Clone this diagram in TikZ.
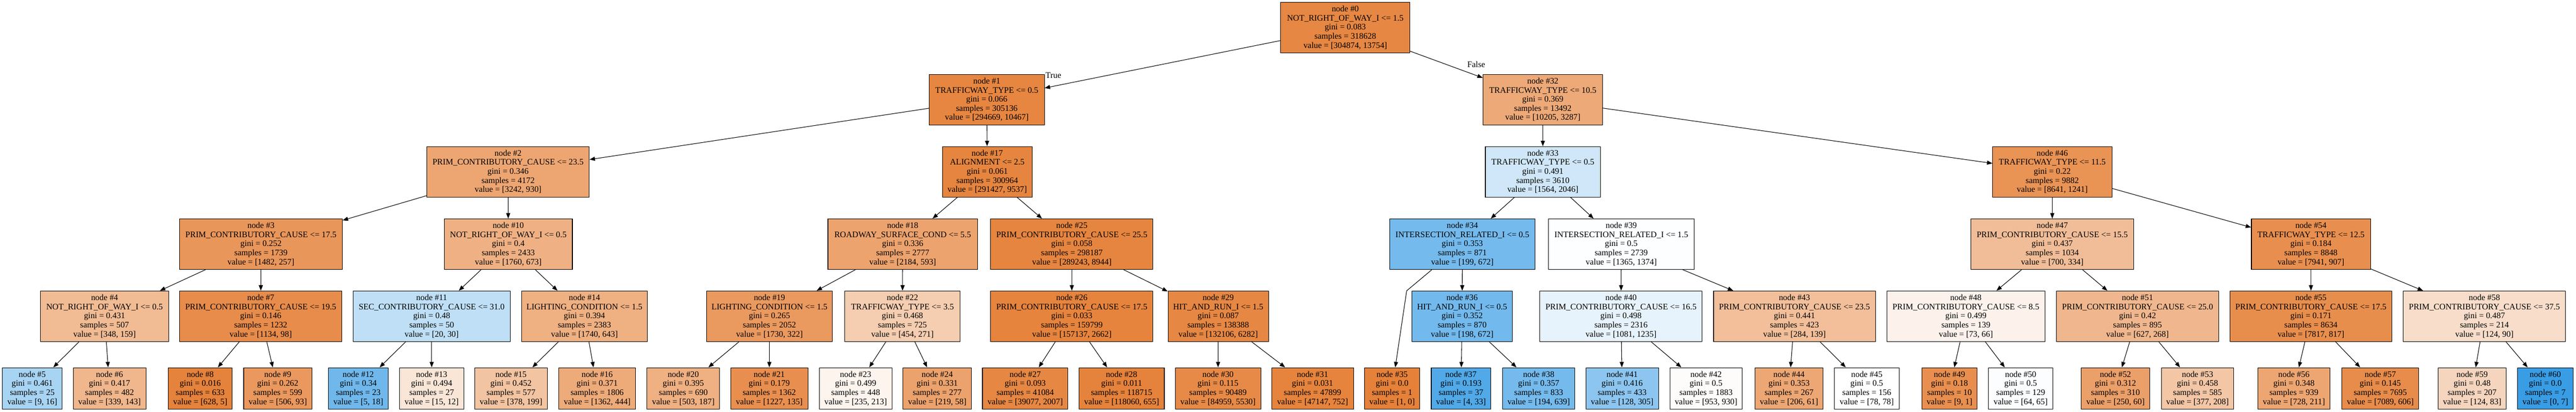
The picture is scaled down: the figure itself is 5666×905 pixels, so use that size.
\documentclass[tikz,border=0pt]{standalone}
\usepackage{fontspec}
\setmainfont{Liberation Serif}
\usetikzlibrary{arrows.meta}
\definecolor{OR}{RGB}{229,129,57}
\definecolor{BL}{RGB}{57,157,229}
\begin{document}
\begin{tikzpicture}[x=1pt,y=-1pt,
  tn/.style={draw=black, line width=1.2pt, inner sep=0pt, align=center, font=\fontsize{18.6}{20}\selectfont},
  big/.style={tn, minimum height=111},
  leaf/.style={tn, minimum height=91},
  conn/.style={draw=black, line width=1.2pt, -{Triangle[length=12pt,width=9pt]}},
  lbl/.style={inner sep=0pt, font=\fontsize{18.6}{20}\selectfont}]
\useasboundingbox (0,0) rectangle (5666,905);
\fill[white] (0,0) rectangle (5666,905);
% level 0
\node[big, fill=OR!95!white, minimum width=284] (n0) at (2959,60.5) {node \#0\\NOT\_RIGHT\_OF\_WAY\_I <= 1.5\\gini = 0.083\\samples = 318628\\value = [304874, 13754]};
% level 1
\node[big, fill=OR!96!white, minimum width=253] (n1) at (2170.5,219) {node \#1\\TRAFFICWAY\_TYPE <= 0.5\\gini = 0.066\\samples = 305136\\value = [294669, 10467]};
\node[big, fill=OR!68!white, minimum width=263] (n32) at (3393.5,219) {node \#32\\TRAFFICWAY\_TYPE <= 10.5\\gini = 0.369\\samples = 13492\\value = [10205, 3287]};
% level 2
\node[big, fill=OR!71!white, minimum width=357] (n2) at (1117.5,377.5) {node \#2\\PRIM\_CONTRIBUTORY\_CAUSE <= 23.5\\gini = 0.346\\samples = 4172\\value = [3242, 930]};
\node[big, fill=OR!97!white, minimum width=197] (n17) at (2171.5,377.5) {node \#17\\ALIGNMENT <= 2.5\\gini = 0.061\\samples = 300964\\value = [291427, 9537]};
\node[big, fill=BL!24!white, minimum width=253] (n33) at (3393.5,377.5) {node \#33\\TRAFFICWAY\_TYPE <= 0.5\\gini = 0.491\\samples = 3610\\value = [1564, 2046]};
\node[big, fill=OR!86!white, minimum width=262] (n46) at (4514,377.5) {node \#46\\TRAFFICWAY\_TYPE <= 11.5\\gini = 0.22\\samples = 9882\\value = [8641, 1241]};
% level 3
\node[big, fill=OR!83!white, minimum width=358] (n3) at (574,536.5) {node \#3\\PRIM\_CONTRIBUTORY\_CAUSE <= 17.5\\gini = 0.252\\samples = 1739\\value = [1482, 257]};
\node[big, fill=OR!62!white, minimum width=282] (n10) at (1118,536.5) {node \#10\\NOT\_RIGHT\_OF\_WAY\_I <= 0.5\\gini = 0.4\\samples = 2433\\value = [1760, 673]};
\node[big, fill=OR!73!white, minimum width=329] (n18) at (1985.5,536.5) {node \#18\\ROADWAY\_SURFACE\_COND <= 5.5\\gini = 0.336\\samples = 2777\\value = [2184, 593]};
\node[big, fill=OR!97!white, minimum width=357] (n25) at (2357.5,536.5) {node \#25\\PRIM\_CONTRIBUTORY\_CAUSE <= 25.5\\gini = 0.058\\samples = 298187\\value = [289243, 8944]};
\node[big, fill=BL!70!white, minimum width=319] (n34) at (3216.5,536.5) {node \#34\\INTERSECTION\_RELATED\_I <= 0.5\\gini = 0.353\\samples = 871\\value = [199, 672]};
\node[big, fill=BL!1!white, minimum width=320] (n39) at (3566,536.5) {node \#39\\INTERSECTION\_RELATED\_I <= 1.5\\gini = 0.5\\samples = 2739\\value = [1365, 1374]};
\node[big, fill=OR!52!white, minimum width=358] (n47) at (4514,536.5) {node \#47\\PRIM\_CONTRIBUTORY\_CAUSE <= 15.5\\gini = 0.437\\samples = 1034\\value = [700, 334]};
\node[big, fill=OR!89!white, minimum width=262] (n54) at (5083,536.5) {node \#54\\TRAFFICWAY\_TYPE <= 12.5\\gini = 0.184\\samples = 8848\\value = [7941, 907]};
% level 4
\node[big, fill=OR!54!white, minimum width=282] (n4) at (230,695) {node \#4\\NOT\_RIGHT\_OF\_WAY\_I <= 0.5\\gini = 0.431\\samples = 507\\value = [348, 159]};
\node[big, fill=OR!91!white, minimum width=357] (n7) at (573.5,695) {node \#7\\PRIM\_CONTRIBUTORY\_CAUSE <= 19.5\\gini = 0.146\\samples = 1232\\value = [1134, 98]};
\node[big, fill=BL!33!white, minimum width=345] (n11) at (949.5,695) {node \#11\\SEC\_CONTRIBUTORY\_CAUSE <= 31.0\\gini = 0.48\\samples = 50\\value = [20, 30]};
\node[big, fill=OR!63!white, minimum width=277] (n14) at (1285.5,695) {node \#14\\LIGHTING\_CONDITION <= 1.5\\gini = 0.394\\samples = 2383\\value = [1740, 643]};
\node[big, fill=OR!81!white, minimum width=277] (n19) at (1692.5,695) {node \#19\\LIGHTING\_CONDITION <= 1.5\\gini = 0.265\\samples = 2052\\value = [1730, 322]};
\node[big, fill=OR!40!white, minimum width=254] (n22) at (1985,695) {node \#22\\TRAFFICWAY\_TYPE <= 3.5\\gini = 0.468\\samples = 725\\value = [454, 271]};
\node[big, fill=OR!98!white, minimum width=357] (n26) at (2357.5,695) {node \#26\\PRIM\_CONTRIBUTORY\_CAUSE <= 17.5\\gini = 0.033\\samples = 159799\\value = [157137, 2662]};
\node[big, fill=OR!95!white, minimum width=221] (n29) at (2679.5,695) {node \#29\\HIT\_AND\_RUN\_I <= 1.5\\gini = 0.087\\samples = 138388\\value = [132106, 6282]};
\node[big, fill=BL!71!white, minimum width=220] (n36) at (3216,695) {node \#36\\HIT\_AND\_RUN\_I <= 0.5\\gini = 0.352\\samples = 870\\value = [198, 672]};
\node[big, fill=BL!12!white, minimum width=357] (n40) at (3565.5,695) {node \#40\\PRIM\_CONTRIBUTORY\_CAUSE <= 16.5\\gini = 0.498\\samples = 2316\\value = [1081, 1235]};
\node[big, fill=OR!51!white, minimum width=356] (n43) at (3947,695) {node \#43\\PRIM\_CONTRIBUTORY\_CAUSE <= 23.5\\gini = 0.441\\samples = 423\\value = [284, 139]};
\node[big, fill=OR!10!white, minimum width=348] (n48) at (4324,695) {node \#48\\PRIM\_CONTRIBUTORY\_CAUSE <= 8.5\\gini = 0.499\\samples = 139\\value = [73, 66]};
\node[big, fill=OR!57!white, minimum width=357] (n51) at (4701.5,695) {node \#51\\PRIM\_CONTRIBUTORY\_CAUSE <= 25.0\\gini = 0.42\\samples = 895\\value = [627, 268]};
\node[big, fill=OR!90!white, minimum width=356] (n55) at (5083,695) {node \#55\\PRIM\_CONTRIBUTORY\_CAUSE <= 17.5\\gini = 0.171\\samples = 8634\\value = [7817, 817]};
\node[big, fill=OR!27!white, minimum width=357] (n58) at (5464.5,695) {node \#58\\PRIM\_CONTRIBUTORY\_CAUSE <= 37.5\\gini = 0.487\\samples = 214\\value = [124, 90]};
% level 5 (leaves)
\node[leaf, fill=BL!44!white, minimum width=132] (n5) at (71,853.5) {node \#5\\gini = 0.461\\samples = 25\\value = [9, 16]};
\node[leaf, fill=OR!58!white, minimum width=160] (n6) at (241,853.5) {node \#6\\gini = 0.417\\samples = 482\\value = [339, 143]};
\node[leaf, fill=OR!99!white, minimum width=141] (n8) at (440.5,853.5) {node \#8\\gini = 0.016\\samples = 633\\value = [628, 5]};
\node[leaf, fill=OR!82!white, minimum width=150] (n9) at (611,853.5) {node \#9\\gini = 0.262\\samples = 599\\value = [506, 93]};
\node[leaf, fill=BL!72!white, minimum width=132] (n12) at (788,853.5) {node \#12\\gini = 0.34\\samples = 23\\value = [5, 18]};
\node[leaf, fill=OR!20!white, minimum width=141] (n13) at (949.5,853.5) {node \#13\\gini = 0.494\\samples = 27\\value = [15, 12]};
\node[leaf, fill=OR!47!white, minimum width=160] (n15) at (1124,853.5) {node \#15\\gini = 0.452\\samples = 577\\value = [378, 199]};
\node[leaf, fill=OR!67!white, minimum width=169] (n16) at (1313.5,853.5) {node \#16\\gini = 0.371\\samples = 1806\\value = [1362, 444]};
\node[leaf, fill=OR!63!white, minimum width=160] (n20) at (1503,853.5) {node \#20\\gini = 0.395\\samples = 690\\value = [503, 187]};
\node[leaf, fill=OR!89!white, minimum width=170] (n21) at (1692,853.5) {node \#21\\gini = 0.179\\samples = 1362\\value = [1227, 135]};
\node[leaf, fill=OR!9!white, minimum width=160] (n23) at (1882,853.5) {node \#23\\gini = 0.499\\samples = 448\\value = [235, 213]};
\node[leaf, fill=OR!74!white, minimum width=151] (n24) at (2061.5,853.5) {node \#24\\gini = 0.331\\samples = 277\\value = [219, 58]};
\node[leaf, fill=OR!95!white, minimum width=188] (n27) at (2255,853.5) {node \#27\\gini = 0.093\\samples = 41084\\value = [39077, 2007]};
\node[leaf, fill=OR!99!white, minimum width=188] (n28) at (2467,853.5) {node \#28\\gini = 0.011\\samples = 118715\\value = [118060, 655]};
\node[leaf, fill=OR!93!white, minimum width=188] (n30) at (2679,853.5) {node \#30\\gini = 0.115\\samples = 90489\\value = [84959, 5530]};
\node[leaf, fill=OR!98!white, minimum width=180] (n31) at (2887,853.5) {node \#31\\gini = 0.031\\samples = 47899\\value = [47147, 752]};
\node[leaf, fill=OR, minimum width=122] (n35) at (3062,853.5) {node \#35\\gini = 0.0\\samples = 1\\value = [1, 0]};
\node[leaf, fill=BL!88!white, minimum width=131] (n37) at (3213.5,853.5) {node \#37\\gini = 0.193\\samples = 37\\value = [4, 33]};
\node[leaf, fill=BL!70!white, minimum width=159] (n38) at (3384.5,853.5) {node \#38\\gini = 0.357\\samples = 833\\value = [194, 639]};
\node[leaf, fill=BL!58!white, minimum width=160] (n41) at (3568,853.5) {node \#41\\gini = 0.416\\samples = 433\\value = [128, 305]};
\node[leaf, fill=OR!2!white, minimum width=159] (n42) at (3752.5,853.5) {node \#42\\gini = 0.5\\samples = 1883\\value = [953, 930]};
\node[leaf, fill=OR!70!white, minimum width=150] (n44) at (3935,853.5) {node \#44\\gini = 0.353\\samples = 267\\value = [206, 61]};
\node[leaf, fill=white, minimum width=142] (n45) at (4106,853.5) {node \#45\\gini = 0.5\\samples = 156\\value = [78, 78]};
\node[leaf, fill=OR!89!white, minimum width=122] (n49) at (4288,853.5) {node \#49\\gini = 0.18\\samples = 10\\value = [9, 1]};
\node[leaf, fill=BL!2!white, minimum width=141] (n50) at (4444.5,853.5) {node \#50\\gini = 0.5\\samples = 129\\value = [64, 65]};
\node[leaf, fill=OR!76!white, minimum width=150] (n52) at (4653,853.5) {node \#52\\gini = 0.312\\samples = 310\\value = [250, 60]};
\node[leaf, fill=OR!45!white, minimum width=159] (n53) at (4833.5,853.5) {node \#53\\gini = 0.458\\samples = 585\\value = [377, 208]};
\node[leaf, fill=OR!71!white, minimum width=159] (n56) at (5045.5,853.5) {node \#56\\gini = 0.348\\samples = 939\\value = [728, 211]};
\node[leaf, fill=OR!91!white, minimum width=169] (n57) at (5235.5,853.5) {node \#57\\gini = 0.145\\samples = 7695\\value = [7089, 606]};
\node[leaf, fill=OR!33!white, minimum width=149] (n59) at (5437.5,853.5) {node \#59\\gini = 0.48\\samples = 207\\value = [124, 83]};
\node[leaf, fill=BL, minimum width=123] (n60) at (5598.5,853.5) {node \#60\\gini = 0.0\\samples = 7\\value = [0, 7]};
% edge labels
\node[lbl] (tlab) at (2317,166) {True};
\node[lbl] (flab) at (3247,141) {False};
% connectors
\foreach \a/\b in {n0/n1,n0/n32,n1/n2,n1/n17,n2/n3,n2/n10,n3/n4,n3/n7,n4/n5,n4/n6,n7/n8,n7/n9,
  n10/n11,n10/n14,n11/n12,n11/n13,n14/n15,n14/n16,n17/n18,n17/n25,n18/n19,n18/n22,n19/n20,n19/n21,
  n22/n23,n22/n24,n25/n26,n25/n29,n26/n27,n26/n28,n29/n30,n29/n31,n32/n33,n32/n46,n33/n34,n33/n39,
  n34/n36,n36/n37,n36/n38,n39/n40,n39/n43,n40/n41,n40/n42,n43/n44,n43/n45,n46/n47,n46/n54,
  n47/n48,n47/n51,n48/n49,n48/n50,n51/n52,n51/n53,n54/n55,n54/n58,n55/n56,n55/n57,n58/n59,n58/n60}
  \draw[conn] (\a) -- (\b);
\coordinate (k35) at (3094,639);
\draw[conn] (n34) -- (k35) -- (n35);
\end{tikzpicture}
\end{document}
